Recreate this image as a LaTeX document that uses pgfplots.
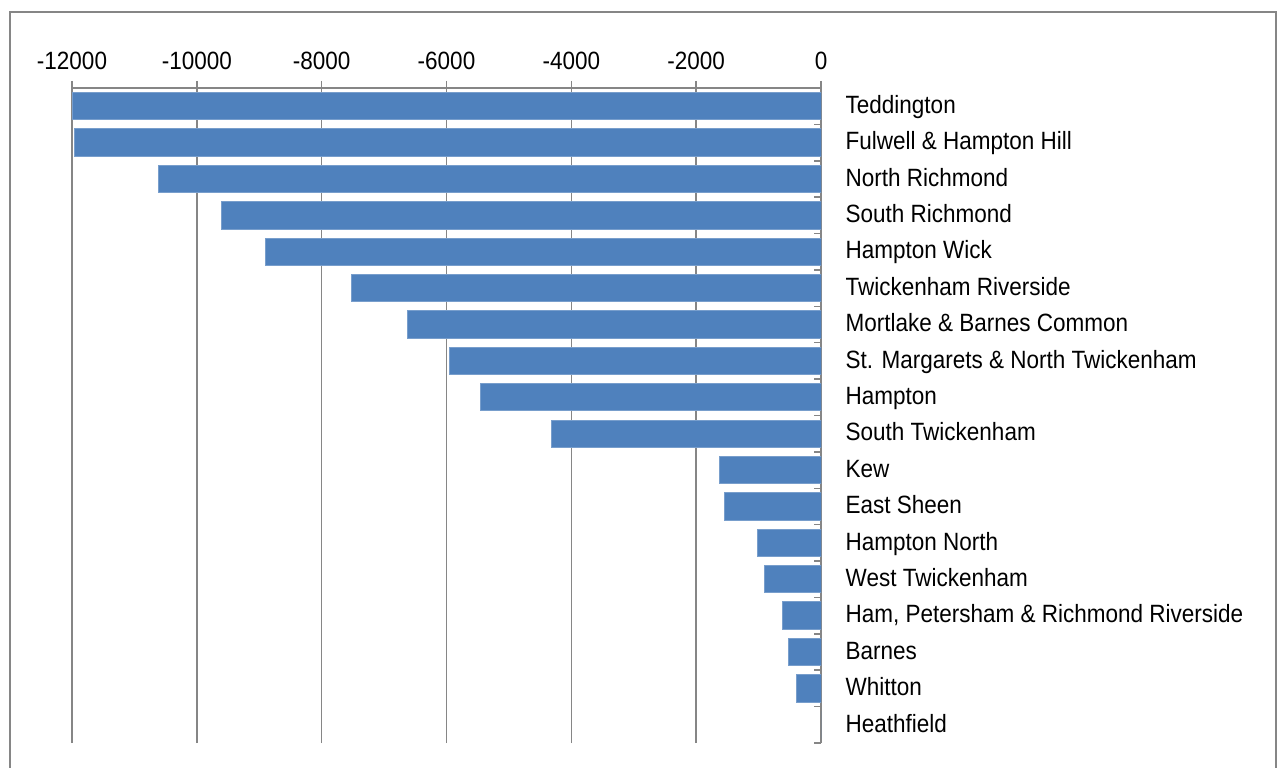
\documentclass[border=0pt]{standalone}
\usepackage{fontspec}
\setmainfont{Liberation Sans}[FakeStretch=0.9]
\usepackage{pgfplots}
\pgfplotsset{compat=1.18}
\definecolor{barblue}{RGB}{79,129,189}
\definecolor{baredge}{RGB}{120,158,204}
\definecolor{gridgray}{RGB}{134,134,134}
\begin{document}
\begin{tikzpicture}
\useasboundingbox (0,0) rectangle (639.5pt,383.5pt);
\draw[gridgray, line width=1.2pt] (5pt,-10pt) rectangle (638pt,377.5pt);
\begin{axis}[
  at={(36pt,12pt)}, anchor=south west,
  scale only axis, width=374.5pt, height=327.5pt,
  xbar, bar width=0.75,
  xmin=-12000, xmax=0, ymin=-0.5, ymax=17.5,
  axis x line=top, axis y line=right,
  axis line style={-, draw=gridgray, line width=0.75pt},
  scaled x ticks=false,
  xtick={-12000,-10000,-8000,-6000,-4000,-2000,0},
  xticklabels={-12000,-10000,-8000,-6000,-4000,-2000,0},
  ytick={0,...,17},
  yticklabels={Heathfield,Whitton,Barnes,{Ham, Petersham \& Richmond Riverside},West Twickenham,Hampton North,East Sheen,Kew,South Twickenham,Hampton,St. Margarets \& North Twickenham,Mortlake \& Barnes Common,Twickenham Riverside,Hampton Wick,South Richmond,North Richmond,Fulwell \& Hampton Hill,Teddington},
  minor ytick={-0.5,0.5,...,17.5},
  xtick align=outside, ytick align=inside,
  major tick length=3.5pt, minor tick length=3.5pt,
  tick style={draw=gridgray, line width=0.75pt},
  every major y tick/.append style={draw=none},
  xmajorgrids, major grid style={draw=gridgray, line width=0.75pt},
  tick label style={font=\fontsize{12.5}{15}\selectfont, text=black},
  xticklabel style={yshift=2.3pt},
  yticklabel style={anchor=base west, xshift=8.8pt, yshift=-0.36em},
]
\addplot[fill=barblue, draw=baredge, line width=0.5pt] coordinates {
(-11990,17) (-11960,16) (-10610,15) (-9600,14) (-8905,13) (-7530,12)
(-6620,11) (-5950,10) (-5460,9) (-4315,8) (-1630,7) (-1540,6)
(-1010,5) (-910,4) (-610,3) (-515,2) (-400,1) (0,0)};
\end{axis}
\end{tikzpicture}
\end{document}
